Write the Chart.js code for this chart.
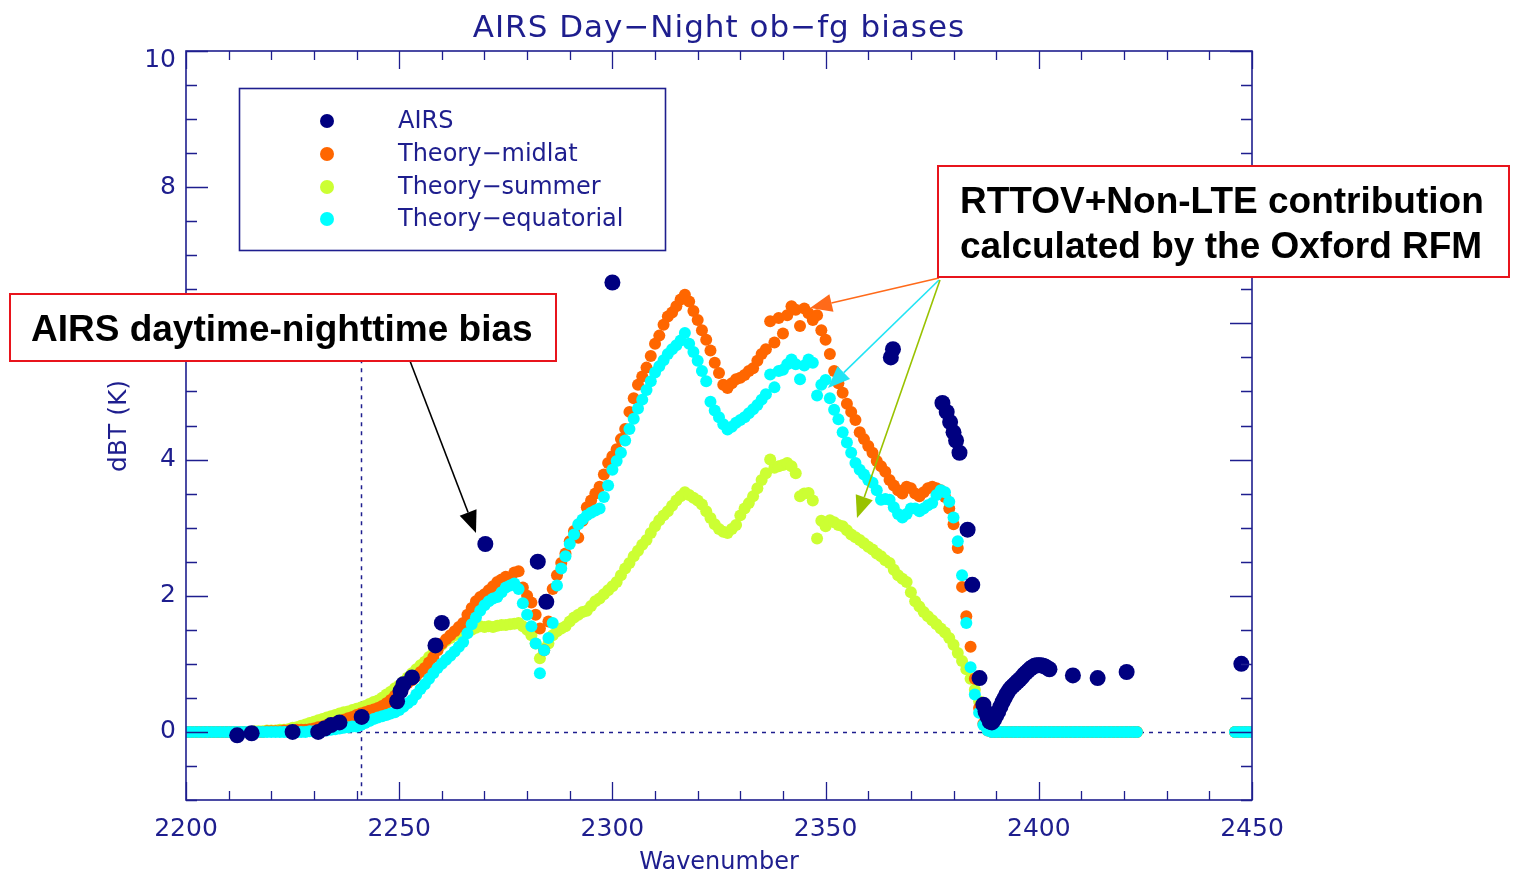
<!DOCTYPE html>
<html>
<head>
<meta charset="utf-8">
<title>AIRS Day-Night ob-fg biases</title>
<style>
  html, body { margin: 0; padding: 0; background: #ffffff; }
  canvas { display: block; }
</style>
<script src="https://cdn.jsdelivr.net/npm/chart.js@4.4.1/dist/chart.umd.min.js"></script>
</head>
<body>
<canvas id="biasChart" width="1513" height="873"></canvas>
<script>
// ---------------------------------------------------------------------------
// Data
// ---------------------------------------------------------------------------

// AIRS observed daytime minus nighttime (ob - fg) bias, K
const airsWavenumber = [
  2212.0, 2215.4, 2225.0, 2231.0, 2232.5, 2234.0, 2236.0, 2241.2,
  2249.5, 2250.3, 2251.0, 2253.0, 2258.5, 2260.0,
  2270.2, 2282.5, 2284.5, 2300.0, 2307.2,
  2365.3, 2365.8,
  2377.4, 2378.4, 2379.2, 2380.0, 2380.6, 2381.4,
  2383.3, 2384.4, 2386.1,
  2387.0, 2387.5, 2388.0, 2388.5, 2389.0, 2389.5, 2390.0, 2390.5,
  2391.0, 2391.5, 2392.0, 2392.5, 2393.0, 2393.5, 2394.0, 2394.5,
  2395.0, 2395.5, 2396.0, 2396.5, 2397.0, 2397.5, 2398.0, 2398.5,
  2399.0, 2399.5, 2400.0, 2400.5, 2401.0, 2401.5, 2402.0, 2402.5,
  2408.0, 2413.8, 2420.6, 2447.5
];
const airsBias = [
  -0.05, -0.02, 0.00, 0.00, 0.05, 0.10, 0.14, 0.22,
  0.45, 0.60, 0.70, 0.80, 1.27, 1.60,
  2.76, 2.50, 1.91, 6.60, 8.14,
  5.50, 5.62,
  4.83, 4.70, 4.55, 4.40, 4.28, 4.10,
  2.97, 2.16, 0.79,
  0.40, 0.30, 0.22, 0.15, 0.14, 0.18, 0.24, 0.30,
  0.37, 0.44, 0.50, 0.56, 0.61, 0.65, 0.68, 0.71,
  0.74, 0.77, 0.80, 0.84, 0.87, 0.90, 0.93, 0.95,
  0.97, 0.98, 0.98, 0.98, 0.97, 0.96, 0.94, 0.92,
  0.83, 0.79, 0.88, 1.00
];

// Wavenumbers (cm-1) at which the RTTOV + non-LTE theory was evaluated
const theoryWavenumber = [
  2200, 2201, 2202, 2203, 2204, 2205, 2206, 2207, 2208, 2209,
  2210, 2211, 2212, 2213, 2214, 2215, 2216, 2217, 2218, 2219,
  2220, 2221, 2222, 2223, 2224, 2225, 2226, 2227, 2228, 2229,
  2230, 2231, 2232, 2233, 2234, 2235, 2236, 2237, 2238, 2239,
  2240, 2241, 2242, 2243, 2244, 2245, 2246, 2247, 2248, 2249,
  2250, 2251, 2252, 2253, 2254, 2255, 2256, 2257, 2258, 2259,
  2260, 2261, 2262, 2263, 2264, 2265, 2266, 2267, 2268, 2269,
  2270, 2271, 2272, 2273, 2274, 2275, 2276, 2277, 2278, 2279,
  2280, 2281, 2282, 2283, 2284, 2285, 2286, 2287, 2288, 2289,
  2290, 2291, 2292, 2293, 2294, 2295, 2296, 2297, 2298, 2299,
  2300, 2301, 2302, 2303, 2304, 2305, 2306, 2307, 2308, 2309,
  2310, 2311, 2312, 2313, 2314, 2315, 2316, 2317, 2318, 2319,
  2320, 2321, 2322, 2323, 2324, 2325, 2326, 2327, 2328, 2329,
  2330, 2331, 2332, 2333, 2334, 2335, 2336, 2337, 2338, 2339,
  2340, 2341, 2342, 2343, 2344, 2345, 2346, 2347, 2348, 2349,
  2350, 2351, 2352, 2353, 2354, 2355, 2356, 2357, 2358, 2359,
  2360, 2361, 2362, 2363, 2364, 2365, 2366, 2367, 2368, 2369,
  2370, 2371, 2372, 2373, 2374, 2375, 2376, 2377, 2378, 2379,
  2380, 2381, 2382, 2383, 2384, 2385, 2386, 2387, 2388, 2389,
  2390, 2391, 2392, 2393, 2394, 2395, 2396, 2397, 2398, 2399,
  2400, 2401, 2402, 2403, 2404, 2405, 2406, 2407, 2408, 2409,
  2410, 2411, 2412, 2413, 2414, 2415, 2416, 2417, 2418, 2419,
  2420, 2421, 2422, 2423,
  2446, 2447, 2448, 2449, 2450
];

// Theory, mid-latitude atmosphere (K)
const midlatBias = [
  0, 0, 0, 0, 0, 0, 0, 0, 0, 0,
  0, 0, 0, 0, 0, 0, 0, 0, 0, 0.01,
  0.01, 0.01, 0.01, 0.02, 0.02, 0.02, 0.03, 0.03, 0.03, 0.04,
  0.05, 0.07, 0.08, 0.10, 0.12, 0.14, 0.16, 0.18, 0.20, 0.22,
  0.25, 0.27, 0.29, 0.31, 0.33, 0.35, 0.38, 0.42, 0.47, 0.53,
  0.62, 0.66, 0.72, 0.76, 0.82, 0.88, 0.94, 1.02, 1.10, 1.20,
  1.30, 1.36, 1.42, 1.48, 1.54, 1.60, 1.72, 1.82, 1.92, 1.98,
  2.02, 2.08, 2.14, 2.20, 2.24, 2.28, 2.20, 2.34, 2.36, 2.12,
  2.00, 1.90, 1.72, 1.52, 1.20, 1.62, 2.10, 2.30, 2.48, 2.62,
  2.80, 2.95, 2.85, 3.10, 3.30, 3.40, 3.50, 3.60, 3.78, 3.95,
  4.05, 4.15, 4.30, 4.45, 4.70, 4.90, 5.10, 5.22, 5.35, 5.52,
  5.70, 5.82, 5.98, 6.10, 6.16, 6.25, 6.35, 6.42, 6.32, 6.18,
  6.05, 5.90, 5.76, 5.60, 5.42, 5.27, 5.10, 5.05, 5.12, 5.18,
  5.20, 5.24, 5.30, 5.34, 5.45, 5.55, 5.62, 6.03, 5.72, 6.08,
  5.85, 6.12, 6.25, 6.20, 5.96, 6.22, 6.15, 6.05, 6.12, 5.90,
  5.76, 5.55, 5.30, 5.12, 4.98, 4.82, 4.70, 4.58, 4.40, 4.30,
  4.20, 4.10, 3.98, 3.90, 3.82, 3.70, 3.62, 3.55, 3.50, 3.60,
  3.58, 3.50, 3.46, 3.52, 3.58, 3.60, 3.58, 3.55, 3.45, 3.28,
  3.05, 2.70, 2.13, 1.70, 1.25, 0.78, 0.35, 0.12, 0.02, 0,
  0, 0, 0, 0, 0, 0, 0, 0, 0, 0,
  0, 0, 0, 0, 0, 0, 0, 0, 0, 0,
  0, 0, 0, 0, 0, 0, 0, 0, 0, 0,
  0, 0, 0, 0,
  0, 0, 0, 0, 0
];

// Theory, summer atmosphere (K)
const summerBias = [
  0, 0, 0, 0, 0, 0, 0, 0, 0, 0,
  0, 0, 0, 0, 0, 0, 0.01, 0.01, 0.01, 0.02,
  0.02, 0.02, 0.03, 0.03, 0.04, 0.06, 0.07, 0.09, 0.11, 0.13,
  0.15, 0.17, 0.19, 0.21, 0.23, 0.25, 0.27, 0.29, 0.30, 0.32,
  0.34, 0.36, 0.38, 0.41, 0.44, 0.46, 0.50, 0.55, 0.59, 0.64,
  0.68, 0.74, 0.80, 0.86, 0.92, 0.98, 1.03, 1.10, 1.16, 1.22,
  1.28, 1.34, 1.38, 1.42, 1.45, 1.46, 1.48, 1.50, 1.53, 1.55,
  1.54, 1.55, 1.54, 1.56, 1.57, 1.57, 1.58, 1.59, 1.60, 1.55,
  1.50, 1.42, 1.30, 1.08, 1.22, 1.30, 1.42, 1.48, 1.52, 1.55,
  1.62, 1.68, 1.72, 1.76, 1.78, 1.85, 1.92, 1.96, 2.02, 2.08,
  2.14, 2.20, 2.30, 2.40, 2.48, 2.58, 2.66, 2.75, 2.82, 2.92,
  3.02, 3.11, 3.18, 3.24, 3.32, 3.40, 3.46, 3.52, 3.48, 3.44,
  3.40, 3.34, 3.24, 3.14, 3.05, 2.98, 2.94, 2.92, 2.98, 3.04,
  3.18, 3.28, 3.36, 3.46, 3.58, 3.70, 3.80, 4.00, 3.88, 3.90,
  3.92, 3.95, 3.90, 3.80, 3.46, 3.50, 3.51, 3.40, 2.84, 3.10,
  3.02, 3.11, 3.08, 3.04, 3.02, 2.96, 2.90, 2.86, 2.82, 2.77,
  2.72, 2.68, 2.62, 2.58, 2.52, 2.48, 2.38, 2.30, 2.25, 2.20,
  2.05, 1.92, 1.84, 1.76, 1.70, 1.64, 1.58, 1.52, 1.46, 1.38,
  1.28, 1.16, 1.04, 0.92, 0.78, 0.62, 0.45, 0.27, 0.10, 0.02,
  0, 0, 0, 0, 0, 0, 0, 0, 0, 0,
  0, 0, 0, 0, 0, 0, 0, 0, 0, 0,
  0, 0, 0, 0, 0, 0, 0, 0, 0, 0,
  0, 0, 0, 0,
  0, 0, 0, 0, 0
];

// Theory, equatorial atmosphere (K)
const equatorialBias = [
  0, 0, 0, 0, 0, 0, 0, 0, 0, 0,
  0, 0, 0, 0, 0, 0, 0, 0, 0, 0,
  0, 0, 0, 0, 0, 0, 0, 0, 0, 0.01,
  0.01, 0.01, 0.02, 0.02, 0.03, 0.04, 0.05, 0.06, 0.07, 0.08,
  0.08, 0.10, 0.13, 0.16, 0.19, 0.21, 0.23, 0.25, 0.27, 0.29,
  0.32, 0.37, 0.42, 0.47, 0.55, 0.63, 0.70, 0.78, 0.86, 0.94,
  1.00, 1.06, 1.12, 1.18, 1.25, 1.32, 1.45, 1.58, 1.68, 1.78,
  1.86, 1.92, 1.96, 1.98, 2.05, 2.12, 2.15, 2.18, 2.10, 1.89,
  1.72, 1.55, 1.30, 0.86, 1.20, 1.38, 1.60, 2.15, 2.40, 2.58,
  2.76, 2.90, 3.05, 3.12, 3.18, 3.22, 3.25, 3.28, 3.45, 3.62,
  3.85, 3.98, 4.10, 4.28, 4.45, 4.60, 4.75, 4.88, 5.02, 5.15,
  5.28, 5.37, 5.46, 5.55, 5.62, 5.68, 5.75, 5.86, 5.70, 5.58,
  5.45, 5.30, 5.15, 4.85, 4.72, 4.62, 4.52, 4.44, 4.48, 4.54,
  4.58, 4.62, 4.68, 4.74, 4.80, 4.88, 4.96, 5.25, 5.06, 5.30,
  5.32, 5.40, 5.47, 5.40, 5.18, 5.38, 5.47, 5.42, 4.94, 5.10,
  5.17, 4.90, 4.73, 4.59, 4.40, 4.25, 4.10, 3.95, 3.85, 3.78,
  3.70, 3.66, 3.55, 3.41, 3.42, 3.41, 3.30, 3.20, 3.15, 3.20,
  3.28, 3.28, 3.24, 3.28, 3.33, 3.36, 3.48, 3.55, 3.52, 3.38,
  3.15, 2.80, 2.30, 1.60, 0.95, 0.55, 0.28, 0.10, 0.02, 0,
  0, 0, 0, 0, 0, 0, 0, 0, 0, 0,
  0, 0, 0, 0, 0, 0, 0, 0, 0, 0,
  0, 0, 0, 0, 0, 0, 0, 0, 0, 0,
  0, 0, 0, 0,
  0, 0, 0, 0, 0
];

// Axis tick labels
const xTickLabels = [2200, 2250, 2300, 2350, 2400, 2450];
const yTickLabels = [0, 2, 4, 6, 8, 10];

// ---------------------------------------------------------------------------
// Styling
// ---------------------------------------------------------------------------
const NAVY = '#1e1e8e';
const AXIS_FONT = '"DejaVu Sans", "Liberation Sans", sans-serif';
const NOTE_FONT = '"Liberation Sans", Arial, sans-serif';
const TOP_Y_LABEL = 10;   // drawn just below the frame corner, like the other labels otherwise

function toPoints(xs, ys) {
  return xs.map((x, i) => ({ x: x, y: ys[i] }));
}

// Inward IDL-style tick marks, full frame and the dotted reference lines
const framePlugin = {
  id: 'frame',
  beforeDatasetsDraw(chart) {
    const { ctx, chartArea: a, scales: { x, y } } = chart;
    ctx.save();
    ctx.strokeStyle = NAVY;
    ctx.lineWidth = 1.5;
    ctx.setLineDash([4, 5]);
    // zero-bias line
    const y0 = Math.round(y.getPixelForValue(0)) + 0.5;
    ctx.beginPath();
    ctx.moveTo(a.left, y0);
    ctx.lineTo(a.right, y0);
    ctx.stroke();
    // marker at 2241 cm-1
    const xv = Math.round(x.getPixelForValue(2241)) + 0.5;
    ctx.beginPath();
    ctx.moveTo(xv, y.getPixelForValue(6));
    ctx.lineTo(xv, a.bottom);
    ctx.stroke();
    ctx.restore();
  },
  afterDatasetsDraw(chart) {
    const { ctx, chartArea: a, scales: { x, y } } = chart;
    ctx.save();
    ctx.strokeStyle = NAVY;
    ctx.lineWidth = 1.6;
    ctx.strokeRect(a.left, a.top, a.right - a.left, a.bottom - a.top);
    ctx.lineWidth = 1.3;
    ctx.beginPath();
    for (let v = 2200; v <= 2450; v += 10) {
      const px = Math.round(x.getPixelForValue(v)) + 0.5;
      const len = (v % 50 === 0) ? 18 : 9;
      ctx.moveTo(px, a.bottom); ctx.lineTo(px, a.bottom - len);
      ctx.moveTo(px, a.top); ctx.lineTo(px, a.top + len);
    }
    for (let v = -1; v <= 10; v += 0.5) {
      const py = Math.round(y.getPixelForValue(v)) + 0.5;
      const len = (v % 2 === 0) ? 22 : 11;
      ctx.moveTo(a.left, py); ctx.lineTo(a.left + len, py);
      ctx.moveTo(a.right, py); ctx.lineTo(a.right - len, py);
    }
    ctx.stroke();

    // top y label, nudged down so it sits inside the page margin
    ctx.fillStyle = NAVY;
    ctx.font = '25px ' + AXIS_FONT;
    ctx.textAlign = 'right';
    ctx.textBaseline = 'middle';
    ctx.fillText(String(TOP_Y_LABEL), a.left - 10, y.getPixelForValue(TOP_Y_LABEL) + 9);
    ctx.restore();
  }
};

function arrow(ctx, x0, y0, x1, y1, color, headLen, headHalf) {
  const ang = Math.atan2(y1 - y0, x1 - x0);
  const bx = x1 - headLen * Math.cos(ang);
  const by = y1 - headLen * Math.sin(ang);
  ctx.save();
  ctx.strokeStyle = color;
  ctx.fillStyle = color;
  ctx.lineWidth = 1.6;
  ctx.beginPath();
  ctx.moveTo(x0, y0);
  ctx.lineTo(bx, by);
  ctx.stroke();
  ctx.beginPath();
  ctx.moveTo(x1, y1);
  ctx.lineTo(bx + headHalf * Math.sin(ang), by - headHalf * Math.cos(ang));
  ctx.lineTo(bx - headHalf * Math.sin(ang), by + headHalf * Math.cos(ang));
  ctx.closePath();
  ctx.fill();
  ctx.restore();
}

function noteBox(ctx, x, y, w, h, lines, tx, baselines) {
  ctx.save();
  ctx.fillStyle = '#ffffff';
  ctx.fillRect(x, y, w, h);
  ctx.strokeStyle = '#e8141c';
  ctx.lineWidth = 2;
  ctx.strokeRect(x, y, w, h);
  ctx.fillStyle = '#000000';
  ctx.font = 'bold 37px ' + NOTE_FONT;
  ctx.textAlign = 'left';
  ctx.textBaseline = 'alphabetic';
  lines.forEach((t, i) => ctx.fillText(t, tx, baselines[i]));
  ctx.restore();
}

// Title, axis titles, legend and the explanatory call-outs
const decorPlugin = {
  id: 'decor',
  afterDraw(chart) {
    const { ctx, chartArea: a } = chart;
    const cx = (a.left + a.right) / 2;
    ctx.save();
    ctx.fillStyle = NAVY;
    ctx.textAlign = 'center';
    ctx.textBaseline = 'alphabetic';

    ctx.font = '31px ' + AXIS_FONT;
    ctx.letterSpacing = '1px';
    ctx.fillText('AIRS Day\u2212Night ob\u2212fg biases', cx, 37);
    ctx.letterSpacing = '0px';

    ctx.font = '24px ' + AXIS_FONT;
    ctx.fillText('Wavenumber', cx, 869);

    ctx.save();
    ctx.translate(126, 426);
    ctx.rotate(-Math.PI / 2);
    ctx.font = '25px ' + AXIS_FONT;
    ctx.fillText('dBT (K)', 0, 0);
    ctx.restore();

    // legend
    ctx.fillStyle = '#ffffff';
    ctx.fillRect(239, 88, 426, 162);
    ctx.strokeStyle = NAVY;
    ctx.lineWidth = 1.6;
    ctx.strokeRect(239.5, 88.5, 426, 162);
    const order = [0, 2, 3, 1];
    const rows = [121, 154, 187, 219];
    ctx.font = '24px ' + AXIS_FONT;
    ctx.textAlign = 'left';
    ctx.textBaseline = 'middle';
    order.forEach((di, r) => {
      const ds = chart.data.datasets[di];
      ctx.fillStyle = ds.backgroundColor;
      ctx.beginPath();
      ctx.arc(327, rows[r], 7, 0, Math.PI * 2);
      ctx.fill();
      ctx.fillStyle = NAVY;
      ctx.fillText(ds.label, 398, rows[r] + 1);
    });
    ctx.restore();

    // call-outs
    arrow(ctx, 410, 361, 476, 533, '#000000', 22, 9);
    arrow(ctx, 939, 278, 810, 308, '#ff6a1a', 22, 9);
    arrow(ctx, 939, 280, 828, 388, '#22e4f4', 22, 9);
    arrow(ctx, 940, 280, 857, 518, '#99c200', 22, 9);

    noteBox(ctx, 10, 294, 546, 67, ['AIRS daytime-nighttime bias'], 31, [341]);
    noteBox(ctx, 938, 166, 571, 111,
      ['RTTOV+Non-LTE contribution', 'calculated by the Oxford RFM'], 960, [213, 258]);
  }
};

const tickFont = { family: AXIS_FONT, size: 25 };

new Chart(document.getElementById('biasChart'), {
  type: 'scatter',
  data: {
    datasets: [
      {
        label: 'AIRS',
        data: toPoints(airsWavenumber, airsBias),
        backgroundColor: '#000080',
        pointRadius: 8,
        order: 0
      },
      {
        label: 'Theory\u2212equatorial',
        data: toPoints(theoryWavenumber, equatorialBias),
        backgroundColor: '#00ffff',
        pointRadius: 6,
        order: 1
      },
      {
        label: 'Theory\u2212midlat',
        data: toPoints(theoryWavenumber, midlatBias),
        backgroundColor: '#ff6600',
        pointRadius: 6,
        order: 2
      },
      {
        label: 'Theory\u2212summer',
        data: toPoints(theoryWavenumber, summerBias),
        backgroundColor: '#ccff33',
        pointRadius: 6,
        order: 3
      }
    ]
  },
  options: {
    responsive: false,
    animation: false,
    devicePixelRatio: 1,
    elements: { point: { borderWidth: 0, hoverRadius: 0 } },
    layout: { padding: { left: 0, top: 51, right: 261, bottom: 0 } },
    plugins: {
      legend: { display: false },
      title: { display: false },
      tooltip: { enabled: false }
    },
    events: [],
    scales: {
      x: {
        type: 'linear',
        min: 2200,
        max: 2450,
        afterBuildTicks(scale) { scale.ticks = xTickLabels.map(v => ({ value: v })); },
        afterFit(scale) { scale.height = 73; },
        grid: { display: false, drawTicks: false },
        border: { display: false },
        ticks: {
          autoSkip: false, maxRotation: 0, color: NAVY, font: tickFont, padding: 14,
          callback: (v) => String(v)
        }
      },
      y: {
        type: 'linear',
        min: -1,
        max: 10,
        afterBuildTicks(scale) { scale.ticks = yTickLabels.map(v => ({ value: v })); },
        afterFit(scale) { scale.width = 186; },
        grid: { display: false, drawTicks: false },
        border: { display: false },
        ticks: {
          color: NAVY, font: tickFont, padding: 10,
          callback: (v) => (v === TOP_Y_LABEL ? '' : String(v))
        }
      }
    }
  },
  plugins: [framePlugin, decorPlugin]
});
</script>
</body>
</html>
